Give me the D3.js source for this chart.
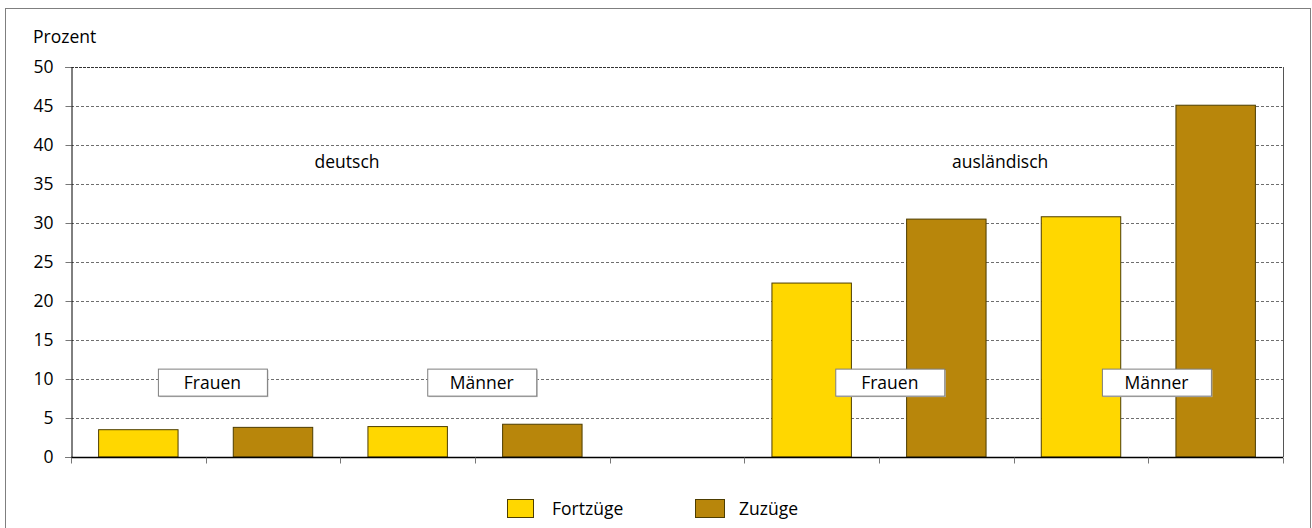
<!DOCTYPE html>
<html>
<head>
<meta charset="utf-8">
<script src="https://cdn.jsdelivr.net/npm/d3@7"></script>
<style>
  body { margin: 0; background: #fff; }
  svg text { font-family: "Open Sans", Lato, sans-serif; fill: #000; }
</style>
</head>
<body>
<div id="chart"></div>
<script>
// slots on the x axis (one empty slot separates the two groups)
const slots = ["dF_fort", "dF_zu", "dM_fort", "dM_zu", "gap", "aF_fort", "aF_zu", "aM_fort", "aM_zu"];
const seriesNames = ["Fortzüge", "Zuzüge"];
const barValues = [
  { slot: "dF_fort", series: "Fortzüge", value: 3.5 },
  { slot: "dF_zu", series: "Zuzüge", value: 3.8 },
  { slot: "dM_fort", series: "Fortzüge", value: 3.9 },
  { slot: "dM_zu", series: "Zuzüge", value: 4.2 },
  { slot: "aF_fort", series: "Fortzüge", value: 22.3 },
  { slot: "aF_zu", series: "Zuzüge", value: 30.5 },
  { slot: "aM_fort", series: "Fortzüge", value: 30.8 },
  { slot: "aM_zu", series: "Zuzüge", value: 45.1 }
];
const yTicks = [0, 5, 10, 15, 20, 25, 30, 35, 40, 45, 50];
// sex labels sit between the two bars of each pair (position in slot units)
const sexLabels = [
  { text: "Frauen", pos: 1.05 },
  { text: "Männer", pos: 3.05 },
  { text: "Frauen", pos: 6.08 },
  { text: "Männer", pos: 8.06 }
];
const groupLabels = [
  { text: "deutsch", pos: 2.05 },
  { text: "ausländisch", pos: 6.9 }
];

const width = 1312, height = 528;
const margin = { top: 67, right: 29, bottom: 71, left: 71 };
const colors = { "Fortzüge": "#FFD700", "Zuzüge": "#B8860B" };
const fontSize = "17.5px";

const svg = d3.select("#chart").append("svg")
  .attr("width", width)
  .attr("height", height);

// outer frame
svg.append("rect")
  .attr("x", 5.5).attr("y", 8.5)
  .attr("width", 1305).attr("height", 530)
  .attr("fill", "none").attr("stroke", "#7f7f7f");

const x = d3.scaleBand()
  .domain(slots)
  .range([margin.left, width - margin.right])
  .padding(0);

// slot-unit scale for free-floating labels
const xPos = d3.scaleLinear()
  .domain([0, slots.length])
  .range([margin.left, width - margin.right]);

const y = d3.scaleLinear()
  .domain([0, 50])
  .range([height - margin.bottom, margin.top]);

// gridlines
svg.append("g")
  .selectAll("line")
  .data(yTicks.filter(d => d > 0 && d < 50))
  .enter().append("line")
  .attr("x1", margin.left).attr("x2", width - margin.right)
  .attr("y1", d => Math.round(y(d)) + 0.5).attr("y2", d => Math.round(y(d)) + 0.5)
  .attr("stroke", "#6e6e6e")
  .attr("stroke-dasharray", "3,2");

// top and right frame of plot
svg.append("line")
  .attr("x1", margin.left).attr("x2", width - margin.right)
  .attr("y1", Math.round(y(50)) + 0.5).attr("y2", Math.round(y(50)) + 0.5)
  .attr("stroke", "#333").attr("stroke-dasharray", "3,1");
svg.append("line")
  .attr("x1", width - margin.right + 0.5).attr("x2", width - margin.right + 0.5)
  .attr("y1", y(50)).attr("y2", y(0))
  .attr("stroke", "#555");

// bars
svg.append("g")
  .selectAll("rect")
  .data(barValues)
  .enter().append("rect")
  .attr("x", d => x(d.slot) + x.bandwidth() * 0.205)
  .attr("width", x.bandwidth() * 0.59)
  .attr("y", d => y(d.value))
  .attr("height", d => y(0) - y(d.value))
  .attr("fill", d => colors[d.series])
  .attr("stroke", "#4d3d00")
  .attr("stroke-width", 1);

// y axis
const yAxis = svg.append("g")
  .attr("transform", `translate(${margin.left + 0.5},0)`)
  .call(d3.axisLeft(y).tickValues(yTicks).tickSize(6).tickPadding(12));
yAxis.select(".domain").attr("stroke", "#000");
yAxis.selectAll(".tick line").attr("stroke", "#777");
yAxis.selectAll(".tick text").style("font-size", fontSize).attr("fill", "#000");

// x axis (ticks only, no labels)
const xAxis = svg.append("g")
  .attr("transform", `translate(0,${y(0) + 0.5})`);
xAxis.append("line")
  .attr("x1", margin.left).attr("x2", width - margin.right)
  .attr("stroke", "#000").attr("stroke-width", 1.5);
const boundaries = slots.map(s => x(s)).concat([x(slots[slots.length - 1]) + x.bandwidth()]);
xAxis.selectAll(".xt")
  .data(boundaries)
  .enter().append("line")
  .attr("class", "xt")
  .attr("x1", d => Math.round(d) + 0.5).attr("x2", d => Math.round(d) + 0.5)
  .attr("y1", 0).attr("y2", 6)
  .attr("stroke", "#777");

svg.append("text")
  .attr("x", 33).attr("y", 43)
  .style("font-size", fontSize)
  .text("Prozent");

// group labels
svg.selectAll(".grp")
  .data(groupLabels)
  .enter().append("text")
  .attr("class", "grp")
  .attr("x", d => xPos(d.pos))
  .attr("y", y(37.5) + 3.5)
  .attr("text-anchor", "middle")
  .style("font-size", fontSize)
  .text(d => d.text);

// boxed sex labels
const boxW = 109, boxH = 27;
const boxes = svg.selectAll(".sex")
  .data(sexLabels)
  .enter().append("g")
  .attr("class", "sex")
  .attr("transform", d => `translate(${xPos(d.pos)},${y(9.6)})`);
boxes.append("rect")
  .attr("x", -boxW / 2 + 1.5).attr("y", -boxH / 2 + 1.5)
  .attr("width", boxW).attr("height", boxH)
  .attr("fill", "#bdbdbd");
boxes.append("rect")
  .attr("x", -boxW / 2 + 0.5).attr("y", -boxH / 2 + 0.5)
  .attr("width", boxW).attr("height", boxH)
  .attr("fill", "#fff").attr("stroke", "#7f7f7f");
boxes.append("text")
  .attr("text-anchor", "middle")
  .attr("y", 6.5)
  .style("font-size", fontSize)
  .text(d => d.text);

// legend
const legendX = [507, 695];
const legend = svg.selectAll(".leg")
  .data(seriesNames)
  .enter().append("g")
  .attr("class", "leg")
  .attr("transform", (d, i) => `translate(${legendX[i]},499)`);
legend.append("rect")
  .attr("x", 0.5).attr("y", 0.5)
  .attr("width", (d, i) => i === 0 ? 26 : 29).attr("height", 18)
  .attr("fill", d => colors[d])
  .attr("stroke", "#4d3d00");
legend.append("text")
  .attr("x", (d, i) => i === 0 ? 45 : 44)
  .attr("y", 15.5)
  .style("font-size", fontSize)
  .text(d => d);
</script>
</body>
</html>
